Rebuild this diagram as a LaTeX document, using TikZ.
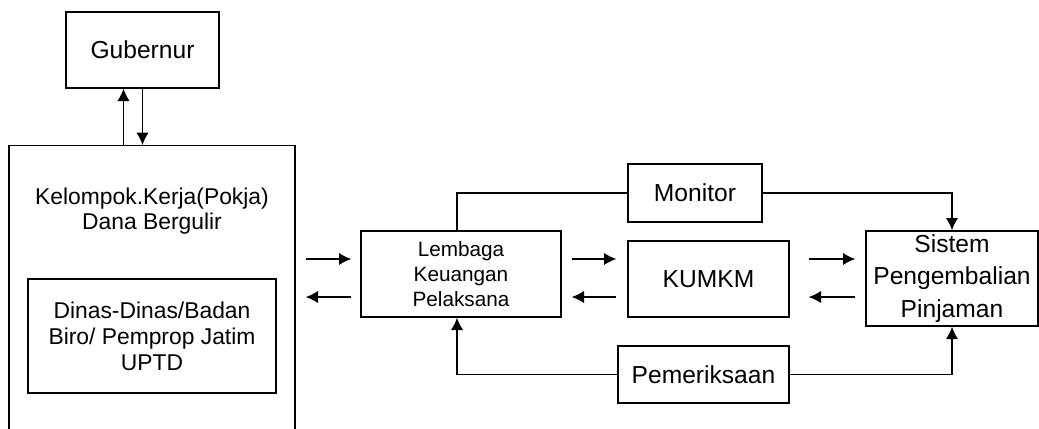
\documentclass[tikz,border=0pt]{standalone}
\usepackage{fontspec}
\setmainfont{Liberation Sans}
\usepackage{tikz}
\usetikzlibrary{calc,arrows.meta}

\begin{document}
\begin{tikzpicture}
\tikzset{
    box/.style={draw, line width=0.8pt, align=center, inner sep=0pt,
        font=\fontsize{14}{18}\selectfont},
    flow/.style={line width=0.8pt, -{Latex[length=7pt,width=7pt]}},
    link/.style={line width=0.8pt}
}
\useasboundingbox (0,0) rectangle (20.78,-8.56);

% Boxes
\node[box, minimum width=3.06cm, minimum height=1.52cm] (gub) at (2.85,-1.0){Gubernur};
\node[box, minimum width=5.72cm, minimum height=6cm, anchor=north] (pokja) at (3.04,-2.9){};
\node[align=center, font=\fontsize{13}{14.5}\selectfont] (pokjatxt) at (3.04,-4.22)
    {Kelompok.Kerja(Pokja)\\Dana Bergulir};
\node[box, minimum width=4.96cm, minimum height=2.28cm, font=\fontsize{13}{14.7}\selectfont]
    (dinas) at (3.04,-6.72){Dinas-Dinas/Badan\\Biro/ Pemprop Jatim\\UPTD};
\node[box, minimum width=4.0cm, minimum height=1.72cm, font=\fontsize{11.8}{14.2}\selectfont]
    (lembaga) at (9.22,-5.48){Lembaga\\Keuangan\\Pelaksana};
\node[box, minimum width=2.68cm, minimum height=1.16cm] (monitor) at (13.9,-3.86){Monitor};
\node[box, minimum width=3.22cm, minimum height=1.52cm] (kumkm) at (14.17,-5.58){KUMKM};
\node[box, minimum width=3.44cm, minimum height=1.9cm, font=\fontsize{14}{18.4}\selectfont]
    (sistem) at (19.04,-5.57){Sistem\\Pengembalian\\Pinjaman};
\node[box, minimum width=3.42cm, minimum height=1.14cm] (periksa) at (14.07,-7.49){Pemeriksaan};

% Gubernur <-> Pokja
\draw[flow] ([xshift=-0.38cm]gub.south |- pokja.north) -- ([xshift=-0.38cm]gub.south);
\draw[flow] (gub.south) -- (gub.south |- pokja.north);

% row arrows
\coordinate (rowin) at (0,-5.18);
\coordinate (rowout) at (0,-5.94);
\draw[flow, shorten <=0.2cm, shorten >=0.18cm] (pokja.east |- rowin) -- (lembaga.west |- rowin);
\draw[flow, shorten <=0.18cm, shorten >=0.2cm] (lembaga.west |- rowout) -- (pokja.east |- rowout);
\draw[flow, shorten <=0.2cm, shorten >=0.22cm] (lembaga.east |- rowin) -- (kumkm.west |- rowin);
\draw[flow, shorten <=0.22cm, shorten >=0.2cm] (kumkm.west |- rowout) -- (lembaga.east |- rowout);
\draw[flow, shorten <=0.38cm, shorten >=0.2cm] (kumkm.east |- rowin) -- (sistem.west |- rowin);
\draw[flow, shorten <=0.2cm, shorten >=0.38cm] (sistem.west |- rowout) -- (kumkm.east |- rowout);

% Monitor and Pemeriksaan loops
\draw[link] ([xshift=-0.08cm]lembaga.north) |- (monitor.west);
\draw[flow] (monitor.east) -| (sistem.north);
\draw[flow] (periksa.west) -| ([xshift=-0.08cm]lembaga.south);
\draw[flow] (periksa.east) -| (sistem.south);

\end{tikzpicture}
\end{document}
